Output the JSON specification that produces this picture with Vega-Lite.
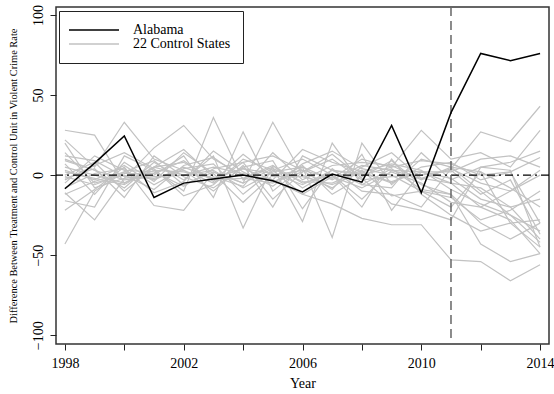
{
  "$schema": "https://vega.github.io/schema/vega-lite/v6.json",
  "width": 493,
  "height": 337,
  "autosize": {"type": "none"},
  "padding": {"left": 56, "top": 7, "right": 5, "bottom": 50},
  "config": {
    "font": "Liberation Serif",
    "view": {"stroke": "#333333", "strokeWidth": 1.5},
    "axis": {"grid": false, "domain": false, "tickColor": "#222222", "tickSize": 6, "labelFont": "Liberation Serif", "titleFont": "Liberation Serif", "labelColor": "black", "titleColor": "black", "labelFontSize": 14, "titleFontWeight": "normal"},
    "legend": {"labelFont": "Liberation Serif", "labelFontSize": 14, "labelColor": "black"}
  },
  "datasets": {
    "alabama": [
      {"state": "Alabama", "year": 1998, "value": -8.5},
      {"state": "Alabama", "year": 1999, "value": 7.5},
      {"state": "Alabama", "year": 2000, "value": 24.5},
      {"state": "Alabama", "year": 2001, "value": -14},
      {"state": "Alabama", "year": 2002, "value": -5},
      {"state": "Alabama", "year": 2003, "value": -2.5},
      {"state": "Alabama", "year": 2004, "value": 0},
      {"state": "Alabama", "year": 2005, "value": -3.5},
      {"state": "Alabama", "year": 2006, "value": -10.5},
      {"state": "Alabama", "year": 2007, "value": 0.6},
      {"state": "Alabama", "year": 2008, "value": -4.4},
      {"state": "Alabama", "year": 2009, "value": 31},
      {"state": "Alabama", "year": 2010, "value": -11},
      {"state": "Alabama", "year": 2011, "value": 39},
      {"state": "Alabama", "year": 2012, "value": 76},
      {"state": "Alabama", "year": 2013, "value": 71.5},
      {"state": "Alabama", "year": 2014, "value": 76}
    ],
    "controls": [
      {"state":"C1","year":1998,"value":28},{"state":"C1","year":1999,"value":25},{"state":"C1","year":2000,"value":-5},{"state":"C1","year":2001,"value":5},{"state":"C1","year":2002,"value":0},{"state":"C1","year":2003,"value":3},{"state":"C1","year":2004,"value":-8},{"state":"C1","year":2005,"value":2},{"state":"C1","year":2006,"value":5},{"state":"C1","year":2007,"value":-3},{"state":"C1","year":2008,"value":6},{"state":"C1","year":2009,"value":3},{"state":"C1","year":2010,"value":-2},{"state":"C1","year":2011,"value":4},{"state":"C1","year":2012,"value":27},{"state":"C1","year":2013,"value":21},{"state":"C1","year":2014,"value":43},
      {"state":"C2","year":1998,"value":-43},{"state":"C2","year":1999,"value":-10},{"state":"C2","year":2000,"value":2},{"state":"C2","year":2001,"value":-3},{"state":"C2","year":2002,"value":5},{"state":"C2","year":2003,"value":-2},{"state":"C2","year":2004,"value":4},{"state":"C2","year":2005,"value":1},{"state":"C2","year":2006,"value":-6},{"state":"C2","year":2007,"value":3},{"state":"C2","year":2008,"value":1},{"state":"C2","year":2009,"value":-4},{"state":"C2","year":2010,"value":2},{"state":"C2","year":2011,"value":-5},{"state":"C2","year":2012,"value":-8},{"state":"C2","year":2013,"value":-20},{"state":"C2","year":2014,"value":-15},
      {"state":"C3","year":1998,"value":22},{"state":"C3","year":1999,"value":5},{"state":"C3","year":2000,"value":33},{"state":"C3","year":2001,"value":10},{"state":"C3","year":2002,"value":3},{"state":"C3","year":2003,"value":-5},{"state":"C3","year":2004,"value":8},{"state":"C3","year":2005,"value":12},{"state":"C3","year":2006,"value":3},{"state":"C3","year":2007,"value":-2},{"state":"C3","year":2008,"value":10},{"state":"C3","year":2009,"value":5},{"state":"C3","year":2010,"value":28},{"state":"C3","year":2011,"value":10},{"state":"C3","year":2012,"value":14},{"state":"C3","year":2013,"value":5},{"state":"C3","year":2014,"value":28},
      {"state":"C4","year":1998,"value":20},{"state":"C4","year":1999,"value":-8},{"state":"C4","year":2000,"value":-2},{"state":"C4","year":2001,"value":17},{"state":"C4","year":2002,"value":31},{"state":"C4","year":2003,"value":10},{"state":"C4","year":2004,"value":0},{"state":"C4","year":2005,"value":-3},{"state":"C4","year":2006,"value":16},{"state":"C4","year":2007,"value":8},{"state":"C4","year":2008,"value":2},{"state":"C4","year":2009,"value":-5},{"state":"C4","year":2010,"value":5},{"state":"C4","year":2011,"value":8},{"state":"C4","year":2012,"value":-3},{"state":"C4","year":2013,"value":2},{"state":"C4","year":2014,"value":11},
      {"state":"C5","year":1998,"value":-22},{"state":"C5","year":1999,"value":-9},{"state":"C5","year":2000,"value":5},{"state":"C5","year":2001,"value":-19},{"state":"C5","year":2002,"value":-22},{"state":"C5","year":2003,"value":2},{"state":"C5","year":2004,"value":-5},{"state":"C5","year":2005,"value":33},{"state":"C5","year":2006,"value":0},{"state":"C5","year":2007,"value":-8},{"state":"C5","year":2008,"value":5},{"state":"C5","year":2009,"value":14},{"state":"C5","year":2010,"value":-2},{"state":"C5","year":2011,"value":-5},{"state":"C5","year":2012,"value":-20},{"state":"C5","year":2013,"value":-28},{"state":"C5","year":2014,"value":-49},
      {"state":"C6","year":1998,"value":-16},{"state":"C6","year":1999,"value":-20},{"state":"C6","year":2000,"value":12},{"state":"C6","year":2001,"value":3},{"state":"C6","year":2002,"value":-10},{"state":"C6","year":2003,"value":36},{"state":"C6","year":2004,"value":-3},{"state":"C6","year":2005,"value":5},{"state":"C6","year":2006,"value":-29},{"state":"C6","year":2007,"value":20},{"state":"C6","year":2008,"value":-6},{"state":"C6","year":2009,"value":4},{"state":"C6","year":2010,"value":-9},{"state":"C6","year":2011,"value":-12},{"state":"C6","year":2012,"value":-43},{"state":"C6","year":2013,"value":-54},{"state":"C6","year":2014,"value":-49},
      {"state":"C7","year":1998,"value":-11},{"state":"C7","year":1999,"value":-28},{"state":"C7","year":2000,"value":-2},{"state":"C7","year":2001,"value":0},{"state":"C7","year":2002,"value":12},{"state":"C7","year":2003,"value":-14},{"state":"C7","year":2004,"value":27},{"state":"C7","year":2005,"value":-10},{"state":"C7","year":2006,"value":5},{"state":"C7","year":2007,"value":-39},{"state":"C7","year":2008,"value":20},{"state":"C7","year":2009,"value":-6},{"state":"C7","year":2010,"value":10},{"state":"C7","year":2011,"value":5},{"state":"C7","year":2012,"value":-10},{"state":"C7","year":2013,"value":-25},{"state":"C7","year":2014,"value":-35},
      {"state":"C8","year":1998,"value":10},{"state":"C8","year":1999,"value":3},{"state":"C8","year":2000,"value":-8},{"state":"C8","year":2001,"value":8},{"state":"C8","year":2002,"value":-3},{"state":"C8","year":2003,"value":12},{"state":"C8","year":2004,"value":-33},{"state":"C8","year":2005,"value":6},{"state":"C8","year":2006,"value":-5},{"state":"C8","year":2007,"value":0},{"state":"C8","year":2008,"value":-20},{"state":"C8","year":2009,"value":10},{"state":"C8","year":2010,"value":-12},{"state":"C8","year":2011,"value":-25},{"state":"C8","year":2012,"value":-35},{"state":"C8","year":2013,"value":-30},{"state":"C8","year":2014,"value":-45},
      {"state":"C9","year":1998,"value":5},{"state":"C9","year":1999,"value":0},{"state":"C9","year":2000,"value":-5},{"state":"C9","year":2001,"value":3},{"state":"C9","year":2002,"value":2},{"state":"C9","year":2003,"value":-2},{"state":"C9","year":2004,"value":4},{"state":"C9","year":2005,"value":-3},{"state":"C9","year":2006,"value":-12},{"state":"C9","year":2007,"value":-18},{"state":"C9","year":2008,"value":-27},{"state":"C9","year":2009,"value":-31},{"state":"C9","year":2010,"value":-31},{"state":"C9","year":2011,"value":-53},{"state":"C9","year":2012,"value":-54},{"state":"C9","year":2013,"value":-66},{"state":"C9","year":2014,"value":-56},
      {"state":"C10","year":1998,"value":0},{"state":"C10","year":1999,"value":8},{"state":"C10","year":2000,"value":-10},{"state":"C10","year":2001,"value":5},{"state":"C10","year":2002,"value":8},{"state":"C10","year":2003,"value":-3},{"state":"C10","year":2004,"value":-2},{"state":"C10","year":2005,"value":6},{"state":"C10","year":2006,"value":-8},{"state":"C10","year":2007,"value":3},{"state":"C10","year":2008,"value":0},{"state":"C10","year":2009,"value":5},{"state":"C10","year":2010,"value":9},{"state":"C10","year":2011,"value":7},{"state":"C10","year":2012,"value":0},{"state":"C10","year":2013,"value":2},{"state":"C10","year":2014,"value":-30},
      {"state":"C11","year":1998,"value":3},{"state":"C11","year":1999,"value":-3},{"state":"C11","year":2000,"value":6},{"state":"C11","year":2001,"value":-6},{"state":"C11","year":2002,"value":4},{"state":"C11","year":2003,"value":7},{"state":"C11","year":2004,"value":-12},{"state":"C11","year":2005,"value":3},{"state":"C11","year":2006,"value":10},{"state":"C11","year":2007,"value":0},{"state":"C11","year":2008,"value":-15},{"state":"C11","year":2009,"value":3},{"state":"C11","year":2010,"value":2},{"state":"C11","year":2011,"value":-2},{"state":"C11","year":2012,"value":-15},{"state":"C11","year":2013,"value":-20},{"state":"C11","year":2014,"value":-40},
      {"state":"C12","year":1998,"value":-5},{"state":"C12","year":1999,"value":12},{"state":"C12","year":2000,"value":3},{"state":"C12","year":2001,"value":2},{"state":"C12","year":2002,"value":-7},{"state":"C12","year":2003,"value":4},{"state":"C12","year":2004,"value":8},{"state":"C12","year":2005,"value":-15},{"state":"C12","year":2006,"value":2},{"state":"C12","year":2007,"value":13},{"state":"C12","year":2008,"value":-2},{"state":"C12","year":2009,"value":-18},{"state":"C12","year":2010,"value":-22},{"state":"C12","year":2011,"value":-28},{"state":"C12","year":2012,"value":5},{"state":"C12","year":2013,"value":3},{"state":"C12","year":2014,"value":-45},
      {"state":"C13","year":1998,"value":14},{"state":"C13","year":1999,"value":-5},{"state":"C13","year":2000,"value":0},{"state":"C13","year":2001,"value":-9},{"state":"C13","year":2002,"value":6},{"state":"C13","year":2003,"value":11},{"state":"C13","year":2004,"value":-2},{"state":"C13","year":2005,"value":-5},{"state":"C13","year":2006,"value":6},{"state":"C13","year":2007,"value":-12},{"state":"C13","year":2008,"value":-1},{"state":"C13","year":2009,"value":9},{"state":"C13","year":2010,"value":-6},{"state":"C13","year":2011,"value":-12},{"state":"C13","year":2012,"value":-30},{"state":"C13","year":2013,"value":-40},{"state":"C13","year":2014,"value":-30},
      {"state":"C14","year":1998,"value":-2},{"state":"C14","year":1999,"value":4},{"state":"C14","year":2000,"value":-14},{"state":"C14","year":2001,"value":12},{"state":"C14","year":2002,"value":-1},{"state":"C14","year":2003,"value":-8},{"state":"C14","year":2004,"value":5},{"state":"C14","year":2005,"value":9},{"state":"C14","year":2006,"value":-21},{"state":"C14","year":2007,"value":4},{"state":"C14","year":2008,"value":-10},{"state":"C14","year":2009,"value":-12},{"state":"C14","year":2010,"value":-20},{"state":"C14","year":2011,"value":4},{"state":"C14","year":2012,"value":-5},{"state":"C14","year":2013,"value":-10},{"state":"C14","year":2014,"value":0},
      {"state":"C15","year":1998,"value":7},{"state":"C15","year":1999,"value":-12},{"state":"C15","year":2000,"value":8},{"state":"C15","year":2001,"value":-4},{"state":"C15","year":2002,"value":14},{"state":"C15","year":2003,"value":1},{"state":"C15","year":2004,"value":-17},{"state":"C15","year":2005,"value":0},{"state":"C15","year":2006,"value":3},{"state":"C15","year":2007,"value":-9},{"state":"C15","year":2008,"value":13},{"state":"C15","year":2009,"value":-22},{"state":"C15","year":2010,"value":2},{"state":"C15","year":2011,"value":2},{"state":"C15","year":2012,"value":10},{"state":"C15","year":2013,"value":12},{"state":"C15","year":2014,"value":5},
      {"state":"C16","year":1998,"value":-8},{"state":"C16","year":1999,"value":1},{"state":"C16","year":2000,"value":4},{"state":"C16","year":2001,"value":-11},{"state":"C16","year":2002,"value":-4},{"state":"C16","year":2003,"value":15},{"state":"C16","year":2004,"value":2},{"state":"C16","year":2005,"value":-7},{"state":"C16","year":2006,"value":7},{"state":"C16","year":2007,"value":15},{"state":"C16","year":2008,"value":4},{"state":"C16","year":2009,"value":0},{"state":"C16","year":2010,"value":-10},{"state":"C16","year":2011,"value":-14},{"state":"C16","year":2012,"value":-28},{"state":"C16","year":2013,"value":-22},{"state":"C16","year":2014,"value":-10},
      {"state":"C17","year":1998,"value":2},{"state":"C17","year":1999,"value":-2},{"state":"C17","year":2000,"value":-6},{"state":"C17","year":2001,"value":5},{"state":"C17","year":2002,"value":16},{"state":"C17","year":2003,"value":-1},{"state":"C17","year":2004,"value":-7},{"state":"C17","year":2005,"value":14},{"state":"C17","year":2006,"value":-3},{"state":"C17","year":2007,"value":6},{"state":"C17","year":2008,"value":8},{"state":"C17","year":2009,"value":6},{"state":"C17","year":2010,"value":-3},{"state":"C17","year":2011,"value":5},{"state":"C17","year":2012,"value":2},{"state":"C17","year":2013,"value":-8},{"state":"C17","year":2014,"value":-20},
      {"state":"C18","year":1998,"value":-3},{"state":"C18","year":1999,"value":6},{"state":"C18","year":2000,"value":14},{"state":"C18","year":2001,"value":4},{"state":"C18","year":2002,"value":-13},{"state":"C18","year":2003,"value":-6},{"state":"C18","year":2004,"value":10},{"state":"C18","year":2005,"value":3},{"state":"C18","year":2006,"value":-12},{"state":"C18","year":2007,"value":-1},{"state":"C18","year":2008,"value":-8},{"state":"C18","year":2009,"value":2},{"state":"C18","year":2010,"value":-5},{"state":"C18","year":2011,"value":-17},{"state":"C18","year":2012,"value":-20},{"state":"C18","year":2013,"value":-10},{"state":"C18","year":2014,"value":3},
      {"state":"C19","year":1998,"value":12},{"state":"C19","year":1999,"value":9},{"state":"C19","year":2000,"value":-1},{"state":"C19","year":2001,"value":-2},{"state":"C19","year":2002,"value":3},{"state":"C19","year":2003,"value":-10},{"state":"C19","year":2004,"value":6},{"state":"C19","year":2005,"value":-20},{"state":"C19","year":2006,"value":12},{"state":"C19","year":2007,"value":3},{"state":"C19","year":2008,"value":-6},{"state":"C19","year":2009,"value":-8},{"state":"C19","year":2010,"value":14},{"state":"C19","year":2011,"value":-3},{"state":"C19","year":2012,"value":5},{"state":"C19","year":2013,"value":8},{"state":"C19","year":2014,"value":15},
      {"state":"C20","year":1998,"value":-12},{"state":"C20","year":1999,"value":-4},{"state":"C20","year":2000,"value":2},{"state":"C20","year":2001,"value":9},{"state":"C20","year":2002,"value":-6},{"state":"C20","year":2003,"value":2},{"state":"C20","year":2004,"value":-5},{"state":"C20","year":2005,"value":4},{"state":"C20","year":2006,"value":-4},{"state":"C20","year":2007,"value":-5},{"state":"C20","year":2008,"value":3},{"state":"C20","year":2009,"value":-13},{"state":"C20","year":2010,"value":-10},{"state":"C20","year":2011,"value":-20},{"state":"C20","year":2012,"value":2},{"state":"C20","year":2013,"value":-30},{"state":"C20","year":2014,"value":-28},
      {"state":"C21","year":1998,"value":9},{"state":"C21","year":1999,"value":3},{"state":"C21","year":2000,"value":-3},{"state":"C21","year":2001,"value":-1},{"state":"C21","year":2002,"value":0},{"state":"C21","year":2003,"value":5},{"state":"C21","year":2004,"value":1},{"state":"C21","year":2005,"value":-4},{"state":"C21","year":2006,"value":2},{"state":"C21","year":2007,"value":10},{"state":"C21","year":2008,"value":-3},{"state":"C21","year":2009,"value":-1},{"state":"C21","year":2010,"value":0},{"state":"C21","year":2011,"value":3},{"state":"C21","year":2012,"value":-12},{"state":"C21","year":2013,"value":-3},{"state":"C21","year":2014,"value":-37},
      {"state":"C22","year":1998,"value":-1},{"state":"C22","year":1999,"value":-6},{"state":"C22","year":2000,"value":1},{"state":"C22","year":2001,"value":1},{"state":"C22","year":2002,"value":9},{"state":"C22","year":2003,"value":-4},{"state":"C22","year":2004,"value":13},{"state":"C22","year":2005,"value":-1},{"state":"C22","year":2006,"value":-1},{"state":"C22","year":2007,"value":-6},{"state":"C22","year":2008,"value":2},{"state":"C22","year":2009,"value":7},{"state":"C22","year":2010,"value":3},{"state":"C22","year":2011,"value":-9},{"state":"C22","year":2012,"value":-18},{"state":"C22","year":2013,"value":-25},{"state":"C22","year":2014,"value":-42}
    ],
    "refs": [{"y0": 0, "x0": 2011}]
  },
  "layer": [
    {
      "data": {"name": "controls"},
      "mark": {"type": "line", "strokeWidth": 1.2, "clip": true},
      "encoding": {
        "x": {"field": "year", "type": "quantitative", "scale": {"domain": [1997.7, 2014.3], "nice": false, "zero": false},
          "axis": {"values": [1998,1999,2000,2001,2002,2003,2004,2005,2006,2007,2008,2009,2010,2011,2012,2013,2014], "labelExpr": "datum.value % 4 == 2 ? format(datum.value, 'd') : ''", "title": "Year", "titleFontSize": 14, "titlePadding": 6, "labelPadding": 6}},
        "y": {"field": "value", "type": "quantitative", "scale": {"domain": [-105.5, 105], "nice": false},
          "axis": {"values": [-100, -50, 0, 50, 100], "labelAngle": -90, "labelAlign": "center", "labelBaseline": "bottom", "labelPadding": 5, "title": "Difference Between Treatment and Control Unit in Violent Crime Rate", "titleFontSize": 10.4, "titlePadding": 13}},
        "detail": {"field": "state"},
        "color": {"datum": "22 Control States", "type": "nominal",
          "scale": {"domain": ["Alabama", "22 Control States"], "range": ["black", "#c2c2c2"]},
          "legend": {"title": null, "orient": "none", "legendX": 3, "legendY": 4, "symbolType": "M-1.8,0H8.2", "symbolSize": 100, "symbolStrokeWidth": 1.5, "strokeColor": "#222222", "fillColor": "white", "padding": 12, "rowPadding": -2, "labelOffset": 48, "labelFontSize": 14}}
      }
    },
    {
      "data": {"name": "refs"},
      "mark": {"type": "rule", "color": "black", "strokeWidth": 1.2, "strokeDash": [8, 4, 2, 4]},
      "encoding": {"y": {"field": "y0", "type": "quantitative"}}
    },
    {
      "data": {"name": "refs"},
      "mark": {"type": "rule", "color": "#666666", "strokeWidth": 1.5, "strokeDash": [9, 5]},
      "encoding": {"x": {"field": "x0", "type": "quantitative"}}
    },
    {
      "data": {"name": "alabama"},
      "mark": {"type": "line", "strokeWidth": 1.5, "clip": true},
      "encoding": {
        "x": {"field": "year", "type": "quantitative"},
        "y": {"field": "value", "type": "quantitative"},
        "color": {"datum": "Alabama", "type": "nominal"}
      }
    }
  ]
}
